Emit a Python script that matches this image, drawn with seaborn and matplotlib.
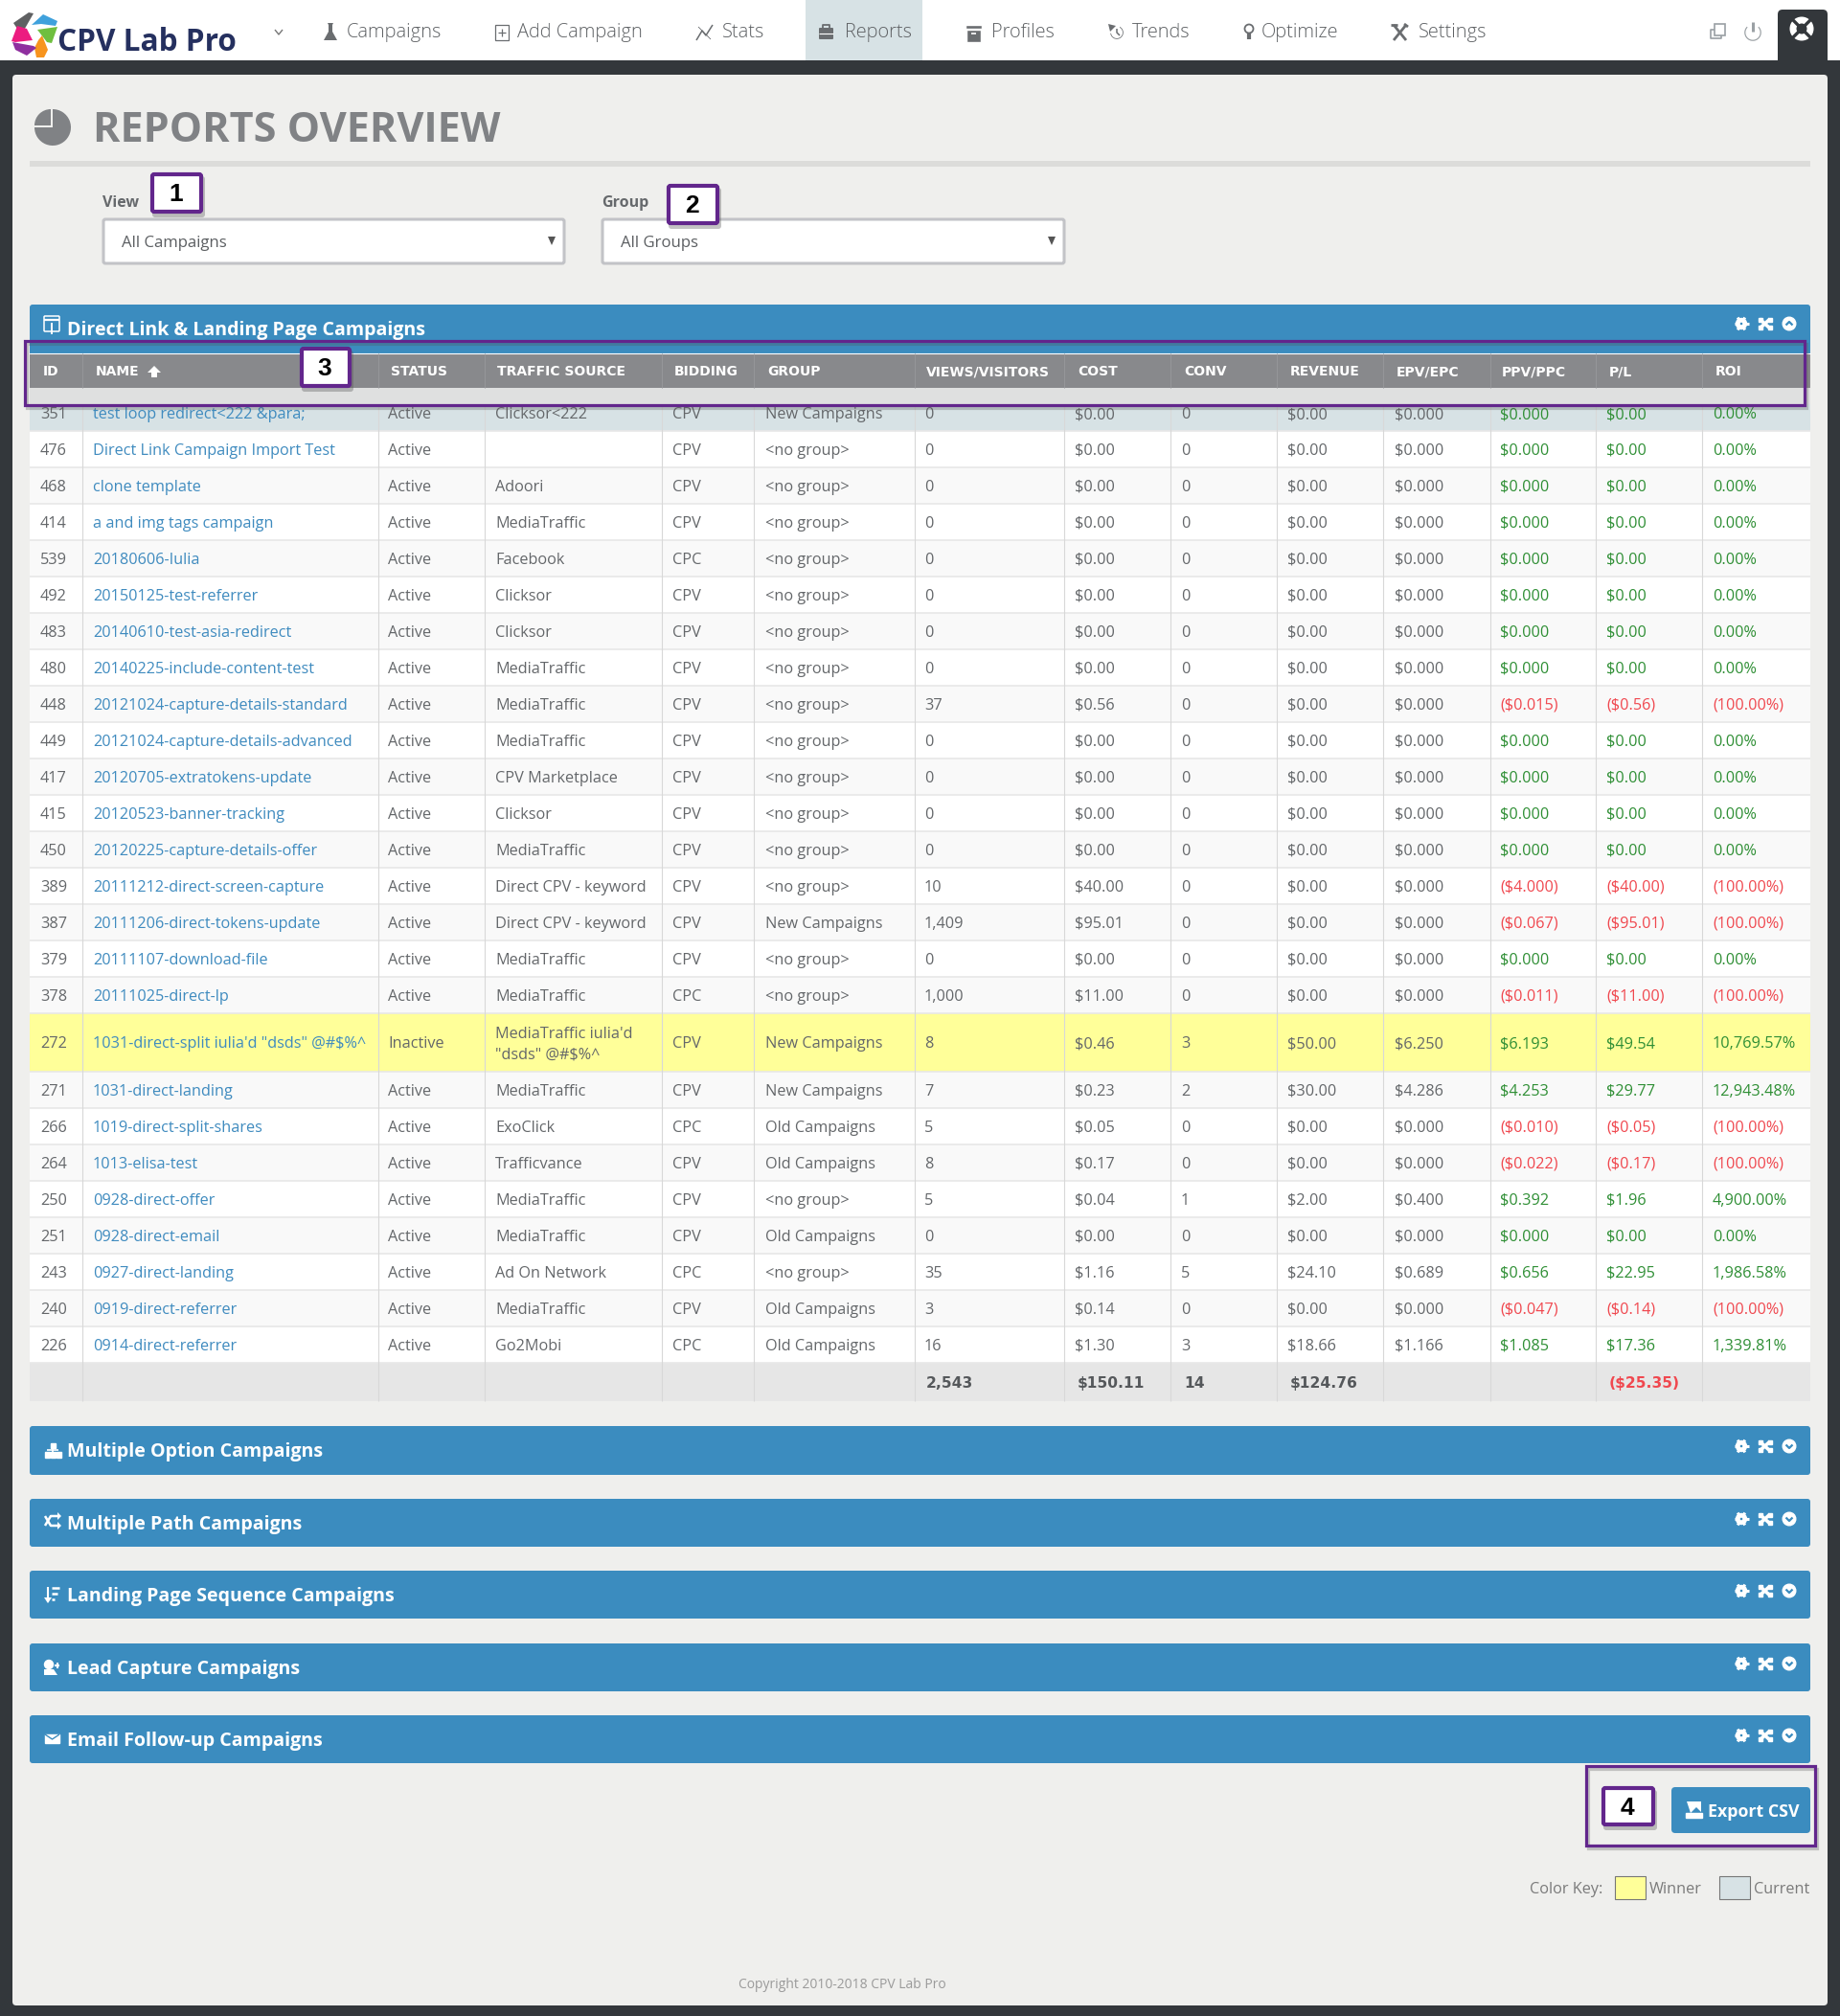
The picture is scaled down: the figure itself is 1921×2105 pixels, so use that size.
import numpy as np
import matplotlib
matplotlib.use("Agg")
import matplotlib.pyplot as plt
from matplotlib.colors import ListedColormap
from matplotlib.patches import Rectangle, FancyBboxPatch, Circle, Wedge, Polygon
import seaborn as sns

# ---------- table data ----------
ids = ["351","476","468","414","539","492","483","480","448","449","417","415","450","389","387","379","378",
       "272","271","266","264","250","251","243","240","226"]
names = ["test loop redirect<222 &para;","Direct Link Campaign Import Test","clone template","a and img tags campaign",
         "20180606-Iulia","20150125-test-referrer","20140610-test-asia-redirect","20140225-include-content-test",
         "20121024-capture-details-standard","20121024-capture-details-advanced","20120705-extratokens-update",
         "20120523-banner-tracking","20120225-capture-details-offer","20111212-direct-screen-capture",
         "20111206-direct-tokens-update","20111107-download-file","20111025-direct-lp",
         "1031-direct-split iulia'd \"dsds\" @#$%^","1031-direct-landing","1019-direct-split-shares","1013-elisa-test",
         "0928-direct-offer","0928-direct-email","0927-direct-landing","0919-direct-referrer","0914-direct-referrer"]
statuses = ["Active"]*17 + ["Inactive"] + ["Active"]*8
sources = ["Clicksor<222","","Adoori","MediaTraffic","Facebook","Clicksor","Clicksor","MediaTraffic","MediaTraffic",
           "MediaTraffic","CPV Marketplace","Clicksor","MediaTraffic","Direct CPV - keyword","Direct CPV - keyword",
           "MediaTraffic","MediaTraffic","MediaTraffic iulia'd\n\"dsds\" @#$%^","MediaTraffic","ExoClick","Trafficvance",
           "MediaTraffic","MediaTraffic","Ad On Network","MediaTraffic","Go2Mobi"]
biddings = ["CPV","CPV","CPV","CPV","CPC","CPV","CPV","CPV","CPV","CPV","CPV","CPV","CPV","CPV","CPV","CPV","CPC",
            "CPV","CPV","CPC","CPV","CPV","CPV","CPC","CPV","CPC"]
groups = ["New Campaigns"] + ["<no group>"]*13 + ["New Campaigns","<no group>","<no group>","New Campaigns","New Campaigns",
          "Old Campaigns","Old Campaigns","<no group>","Old Campaigns","<no group>","Old Campaigns","Old Campaigns"]
views = ["0","0","0","0","0","0","0","0","37","0","0","0","0","10","1,409","0","1,000","8","7","5","8","5","0","35","3","16"]
costs = ["$0.00"]*8 + ["$0.56","$0.00","$0.00","$0.00","$0.00","$40.00","$95.01","$0.00","$11.00","$0.46","$0.23",
         "$0.05","$0.17","$0.04","$0.00","$1.16","$0.14","$1.30"]
convs = ["0"]*17 + ["3","2","0","0","1","0","5","0","3"]
revenues = ["$0.00"]*17 + ["$50.00","$30.00","$0.00","$0.00","$2.00","$0.00","$24.10","$0.00","$18.66"]
epvs = ["$0.000"]*17 + ["$6.250","$4.286","$0.000","$0.000","$0.400","$0.000","$0.689","$0.000","$1.166"]
ppvs = ["$0.000"]*8 + ["($0.015)","$0.000","$0.000","$0.000","$0.000","($4.000)","($0.067)","$0.000","($0.011)",
        "$6.193","$4.253","($0.010)","($0.022)","$0.392","$0.000","$0.656","($0.047)","$1.085"]
pls = ["$0.00"]*8 + ["($0.56)","$0.00","$0.00","$0.00","$0.00","($40.00)","($95.01)","$0.00","($11.00)",
       "$49.54","$29.77","($0.05)","($0.17)","$1.96","$0.00","$22.95","($0.14)","$17.36"]
rois = ["0.00%"]*8 + ["(100.00%)","0.00%","0.00%","0.00%","0.00%","(100.00%)","(100.00%)","0.00%","(100.00%)",
        "10,769.57%","12,943.48%","(100.00%)","(100.00%)","4,900.00%","0.00%","1,986.58%","(100.00%)","1,339.81%"]
totals = {"views":"2,543","cost":"$150.11","conv":"14","rev":"$124.76","pl":"($25.35)"}
headers = ["ID","NAME","STATUS","TRAFFIC SOURCE","BIDDING","GROUP","VIEWS/VISITORS","COST","CONV","REVENUE","EPV/EPC","PPV/PPC","P/L","ROI"]
nav_items = ["Campaigns","Add Campaign","Stats","Reports","Profiles","Trends","Optimize","Settings"]
sections = ["Multiple Option Campaigns","Multiple Path Campaigns","Landing Page Sequence Campaigns",
            "Lead Capture Campaigns","Email Follow-up Campaigns"]

# ---------- layout (pixels) ----------
W, H = 1921, 2105
TBL_L, TBL_R, TBL_T, TBL_B = 31, 1890, 405, 1463
col_edges = [31,86,395,506,691,787,955,1111,1222,1333,1444,1556,1666,1777,1890]
head_x = [45,100,408,519,704,801,967,1125,1236,1347,1458,1568,1680,1791]
cell_x = [42,97,405,517,702,799,965,1122,1233,1344,1456,1566,1677,1788]
nav_x = [362,540,754,882,1035,1182,1317,1481]
row_heights = [45] + [38]*16 + [61] + [38]*8 + [40]
row_states = [3] + [0 if i % 2 else 1 for i in range(1,17)] + [2] + [1 if i % 2 == 0 else 0 for i in range(8)] + [4]

# ---------- colours ----------
DARK="#33373b"; PANEL="#efefed"; BLUE="#3b8cbf"; HEAD="#88898c"; CELL="#64676a"; LINK="#3f8bbf"
GREEN="#2f8f35"; RED="#f0484f"; PURPLE="#62268c"; TITLE="#808285"; NAVTX="#5f6265"
row_cmap = ListedColormap(["#ffffff","#f9f9f9","#ffff99","#d7e2e5","#e6e6e6"])

sns.set_theme(style="white")
FS = "Open Sans"
plt.rcParams['font.family'] = [FS, 'DejaVu Sans']
plt.rcParams['text.parse_math'] = False

fig = plt.figure(figsize=(W/100, H/100), dpi=100, facecolor=DARK)

def pixel_axes(z):
    a = fig.add_axes([0,0,1,1], zorder=z)
    a.set_xlim(0,W); a.set_ylim(H,0); a.axis("off")
    return a
bg = pixel_axes(0)
ax = pixel_axes(2)

# table body as a heatmap, one matrix row per pixel of row height
tb = fig.add_axes([TBL_L/W, 1-TBL_B/H, (TBL_R-TBL_L)/W, (TBL_B-TBL_T)/H], zorder=1)
stripe = np.repeat(np.array(row_states), row_heights)[:, None]
sns.heatmap(stripe, cmap=row_cmap, vmin=-0.5, vmax=4.5, cbar=False, ax=tb, xticklabels=False, yticklabels=False, rasterized=True)

def rr(a, x0, y0, x1, y1, r=3, fc="none", ec="none", lw=0, z=2):
    p = FancyBboxPatch((x0+r, y0+r), x1-x0-2*r, y1-y0-2*r, boxstyle=f"round,pad={r},rounding_size={r}",
                       fc=fc, ec=ec, lw=lw, zorder=z, mutation_aspect=1)
    a.add_patch(p); return p

def T(x, y, s, size=11.7, color=CELL, weight="normal", ha="left", family=None, z=5, **k):
    return ax.text(x, y, s, fontsize=size, color=color, fontweight=weight, ha=ha, va="baseline",
                   family=family or [FS,'DejaVu Sans'], zorder=z, **k)

def L(xs, ys, color, lw, z=4, **k):
    ax.plot(xs, ys, color=color, lw=lw, zorder=z, solid_capstyle=k.pop("cap","butt"), **k)

def P(pts, color, z=4):
    ax.add_patch(Polygon(pts, closed=True, fc=color, ec="none", zorder=z))

# ---------- page furniture ----------
rr(bg, 13, 78, 1908, 2094, r=4, fc=PANEL)
bg.add_patch(Rectangle((0,0), W, 63, fc="white", ec="none", zorder=3))
bg.add_patch(Rectangle((841,0), 122, 63, fc="#d7e2e5", ec="none", zorder=4))
rr(bg, 1856, 10, 1908, 70, r=5, fc=DARK, z=5)
bg.add_patch(Rectangle((31,168), 1859, 6, fc="#dcdcda", ec="none", zorder=3))

# logo
logo = [([22,14,30,35,27],[36,24,13,14,28],"#5f6062"),
        ([33,45,60,58,43],[26,15,22,27,25],"#3fa1dc"),
        ([39,60,54,49],[31,28,45,44],"#6fbf3f"),
        ([44,50,46,38,36,40],[37,52,60,60,50,42],"#f7941d"),
        ([13,35,38,28,16],[44,48,50,58,52],"#8f2f9f"),
        ([12,18,28,34,16],[43,27,30,42,44],"#ec1c80")]
for xs, ys, c in logo:
    P(list(zip(xs,ys)), c, z=6)
T(60, 53, "CPV Lab Pro", size=22.7, color="#25305f", weight="bold")
L([287,291,295],[31,36,31],"#777777",1)

# nav
for x, s in zip(nav_x, nav_items):
    T(x, 39, s, size=14.4, color=NAVTX, weight="light")
G="#6a6d70"
P([(342,24),(348,24),(347,26),(347,33),(352,42),(338,42),(343,33),(343,26)],G)
ax.add_patch(Rectangle((517,26),14,16,fc="none",ec=G,lw=0.9,zorder=4)); L([524,524],[30,38],G,0.9); L([520,528],[34,34],G,0.9)
L([727,733,737,744],[42,32,37,26],G,1.1); L([729,742],[28,41],G,0.6)
rr(ax,855,29,870,41,r=1,fc=G); L([859,859,866,866],[29,26,26,29],G,1.3); L([855,870],[35,35],"white",0.8)
ax.add_patch(Rectangle((1008,26),17,4,fc=G,zorder=4)); ax.add_patch(Rectangle((1009,31),15,13,fc=G,zorder=4)); L([1014,1019],[35,35],"white",1.2)
ax.add_patch(Wedge((1166,34),7.5,-70,180,width=2.2,fc=G,zorder=4)); P([(1157,25),(1165,27),(1159,33)],G); L([1166,1166,1169],[30,34,37],G,1.1)
ax.add_patch(Circle((1304,30),4.5,fc="none",ec=G,lw=1.3,zorder=4)); L([1304,1304],[35,41],G,3)
L([1455,1468],[26,42],G,2); L([1468,1455],[26,42],G,2); L([1452,1459],[26,26],G,2); L([1466,1470],[25,28],G,2)
# right icons
C="#9aa0a4"
ax.add_patch(Rectangle((1790,25),11,12,fc="none",ec=C,lw=1.2,zorder=4)); L([1790,1786,1786,1797,1797],[31,31,40,40,37],C,1.2)
ax.add_patch(Wedge((1830,34),9.5,-50,230,width=2.6,fc=C,zorder=4)); L([1830,1830],[23,33],C,2.2)
ax.add_patch(Circle((1881,30),12.5,fc="white",ec="none",zorder=4))
for dx,dy in [(9.5,9.5),(9.5,-9.5)]:
    L([1881-dx,1881+dx],[30-dy,30+dy],DARK,2.4,z=5)
ax.add_patch(Circle((1881,30),5.5,fc=DARK,ec="none",zorder=6))

# title
ax.add_patch(Wedge((55,133),19,270,540,fc=TITLE,ec="none",zorder=4))
ax.add_patch(Wedge((53,131),17,180,270,fc=TITLE,ec="none",zorder=4))
T(97, 148, "REPORTS OVERVIEW", size=31.1, color=TITLE, weight="bold")

# selects
for x0, x1, lab, val in [(108,589,"View","All Campaigns"),(629,1111,"Group","All Groups")]:
    rr(ax,x0,229,x1,275,r=2,fc="white",ec="#c2c3c7",lw=2.2,z=3)
    T(x0-1, 216, lab, size=11.5, color="#66696c", weight="bold")
    T(x0+19, 258, val, size=12.1, color="#5c5f62")
    P([(x1-17,247),(x1-9,247),(x1-13,256)],"#555555")

# main section bar and table furniture
rr(ax,31,318,1890,375,r=3,fc=BLUE,z=2)
T(70,350,"Direct Link & Landing Page Campaigns",size=14.1,color="white",weight="bold")
ax.add_patch(Rectangle((31,369),1859,36,fc=HEAD,ec="none",zorder=3))
ax.add_patch(Rectangle((31,405),1859,17,fc="#dfe0e0",ec="none",zorder=3))
ax.plot([31,1890],[368.5,368.5],color="white",lw=0.8,zorder=4)
for x, s in zip(head_x, headers):
    T(x, 392, s, size=10.0, color="white", weight="bold", family=["DejaVu Sans"])
for x in col_edges[1:-1]:
    L([x,x],[369,405],"#96979a",0.7)
    L([x,x],[422,TBL_B],"#d8d8d8",0.8)
P([(161,382),(168,389),(164,389),(164,394),(158,394),(158,389),(154,389)],"white")

# rows
edges = np.cumsum([TBL_T]+row_heights)
for y in edges[1:-1]:
    L([TBL_L,TBL_R],[y,y],"#e8e8e8",1.2,z=3)
BL = 5.6
for i in range(len(ids)):
    yc = (edges[i]+edges[i+1])/2 + BL
    if i == 0:
        yc += 4   # the first row is partly under the header's band
    pos = not ppvs[i].startswith("(")
    vals = [ids[i],names[i],statuses[i],sources[i],biddings[i],groups[i],views[i],costs[i],convs[i],revenues[i],epvs[i],ppvs[i],pls[i],rois[i]]
    for j,(x,v) in enumerate(zip(cell_x,vals)):
        col = CELL
        if j==1: col=LINK
        if j>=11: col = GREEN if pos else RED
        y = yc
        if "\n" in v: y = yc+11.5
        T(x,y,v,color=col,linespacing=1.5)
ty = (edges[-2]+edges[-1])/2 + 5.6
TOT = dict(weight="bold", size=11.2, family=["DejaVu Sans"])
T(967,ty,totals["views"],color="#55585b",**TOT)
T(1125,ty,totals["cost"],color="#55585b",**TOT)
T(1236,ty,totals["conv"],color="#55585b",**TOT)
T(1347,ty,totals["rev"],color="#55585b",**TOT)
T(1680,ty,totals["pl"],color=RED,**TOT)

# bar icons
def bar_icons(cy, up=False):
    ax.add_patch(Circle((1818,cy),5.5,fc="white",zorder=6)); ax.add_patch(Circle((1818,cy),2,fc=BLUE,zorder=7))
    for a0 in range(0,360,60):
        dx,dy=7.5*np.cos(np.radians(a0)),7.5*np.sin(np.radians(a0))
        L([1818,1818+dx],[cy,cy+dy],"white",2.2,z=5)
    L([1837,1848],[cy-5,cy+5],"white",2.6,z=6); L([1837,1848],[cy+5,cy-5],"white",2.6,z=6)
    for sx,sy in [(1836,cy-6),(1846,cy-6),(1836,cy+2),(1846,cy+2)]:
        ax.add_patch(Rectangle((sx,sy),4,4,fc="white",zorder=6))
    ax.add_patch(Circle((1868,cy),6.8,fc="white",zorder=6))
    s = -1 if up else 1
    L([1864.5,1868,1871.5],[cy-s*1.5,cy+s*2,cy-s*1.5],BLUE,1.6,z=7)
bar_icons(338,True)
rr(ax,46,330,62,346,r=1,fc="none",ec="white",lw=1.1,z=6); L([46,62],[334,334],"white",1.6,z=6); L([54,54],[337,349],"white",1.4,z=7)

bars = [(1489,1540),(1565,1615),(1640,1690),(1716,1766),(1791,1841)]
for (y0,y1),s in zip(bars,sections):
    rr(ax,31,y0,1890,y1,r=3,fc=BLUE,z=2)
    T(70,y0+32,s,size=14.1,color="white",weight="bold")
    bar_icons(y0+21)
# section glyphs
for x,y in [(49,1520),(55,1520),(61,1520)]:
    ax.add_patch(Rectangle((x-2.5,y-4),5,6,fc="white",zorder=6))
ax.add_patch(Rectangle((52.5,1507),5,5,fc="white",zorder=6)); L([55,55],[1511,1516],"white",1.2,z=6); L([49,61],[1514,1514],"white",1.2,z=6)
L([47,53,61],[1583,1593,1593],"white",1.8,z=6); L([47,53,61],[1593,1583,1583],"white",1.8,z=6)
P([(60,1579),(64,1583),(60,1587)],"white",z=6); P([(60,1589),(64,1593),(60,1597)],"white",z=6)
L([50,50],[1657,1673],"white",1.5,z=6); P([(46,1668),(54,1668),(50,1674)],"white",z=6); L([54,62],[1658,1658],"white",1.8,z=6); L([54,60],[1664,1664],"white",1.8,z=6); L([54,57],[1670,1670],"white",1.8,z=6)
ax.add_patch(Circle((51,1738),4.5,fc="white",zorder=6)); P([(46,1743),(56,1743),(60,1749),(46,1749)],"white",z=6); L([57,62],[1739,1739],"white",1.5,z=6); L([59.5,59.5],[1736,1742],"white",1.5,z=6)
ax.add_patch(Rectangle((47,1811),15,9,fc="white",zorder=6)); L([47,54.5,62],[1811,1816,1811],BLUE,1,z=7)

# export and key
rr(ax,1745,1866,1890,1914,r=4,fc=BLUE,z=3)
T(1783,1897,"Export CSV",size=12.8,color="white",weight="bold")
P([(1761,1881),(1776,1881),(1776,1892),(1771,1887),(1765,1893)],"white",z=6); ax.add_patch(Rectangle((1760,1893),17,5,fc="white",zorder=6))
T(1597,1977,"Color Key:",size=11.7,color="#7a7a7a")
ax.add_patch(Rectangle((1686,1959),32,24,fc="#ffff99",ec="#777777",lw=0.8,zorder=4))
T(1722,1977,"Winner",size=11.7,color="#7a7a7a")
ax.add_patch(Rectangle((1795,1959),32,24,fc="#d7e2e5",ec="#777777",lw=0.8,zorder=4))
T(1831,1977,"Current",size=11.7,color="#7a7a7a")
T(879,2076,"Copyright 2010-2018 CPV Lab Pro",size=10,color="#9a9a9a",ha="center")

# callouts
def shadowed_rect(x0,y0,x1,y1,lw):
    ax.add_patch(Rectangle((x0+2,y0+3),x1-x0,y1-y0,fc="none",ec="#555555",lw=lw,alpha=0.3,zorder=7))
    ax.add_patch(Rectangle((x0,y0),x1-x0,y1-y0,fc="none",ec=PURPLE,lw=lw,zorder=8))
shadowed_rect(26,356,1884,423,2.3)
shadowed_rect(1656,1844,1895,1927,2.3)
for x0,y0,x1,y1,s in [(157,180,212,223,"1"),(696,192,751,235,"2"),(313,362,367,405,"3"),(1672,1865,1728,1907,"4")]:
    rr(ax,x0+2,y0+4,x1+2,y1+4,r=3,fc="#555555",z=8).set_alpha(0.35)
    rr(ax,x0+2,y0+2,x1-2,y1-2,r=2,fc="white",ec=PURPLE,lw=3,z=9)
    T((x0+x1)/2-1,(y0+y1)/2+9,s,size=19,color="black",weight="bold",ha="center",family=["Liberation Sans"],z=10)

fig.savefig("out.png", dpi=100, facecolor=DARK)
